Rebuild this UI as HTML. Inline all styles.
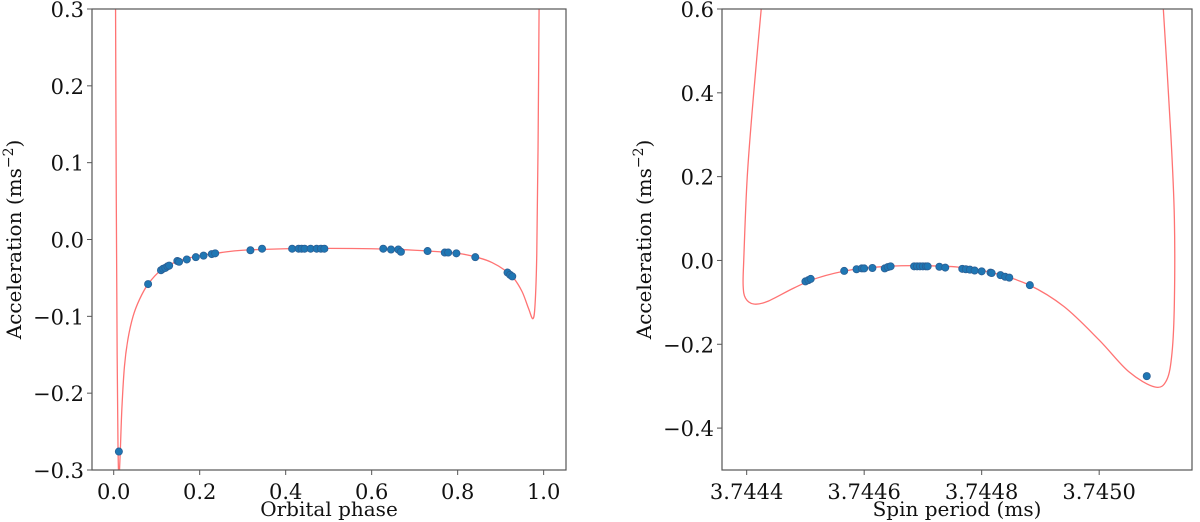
<!DOCTYPE html>
<html><head><meta charset="utf-8">
<style>
html,body{margin:0;padding:0;background:#fff;}
svg{display:block;font-family:"DejaVu Serif","Liberation Serif",serif;}
</style></head>
<body>
<svg id="chart" width="1200" height="522" viewBox="0 0 1200 522"></svg>
<script>
// ---- Left panel data (orbital phase) ----
const leftXTicks = [0.0, 0.2, 0.4, 0.6, 0.8, 1.0];
const leftXTickLabels = ["0.0", "0.2", "0.4", "0.6", "0.8", "1.0"];
const leftYTicks = [-0.3, -0.2, -0.1, 0.0, 0.1, 0.2, 0.3];
const leftYTickLabels = ["\u22120.3", "\u22120.2", "\u22120.1", "0.0", "0.1", "0.2", "0.3"];
const leftCurvePhase = [0.004, 0.006, 0.008, 0.010, 0.012, 0.015, 0.019, 0.025, 0.033, 0.045, 0.06, 0.08, 0.11, 0.15, 0.2, 0.25, 0.3, 0.4, 0.5, 0.6, 0.7, 0.8, 0.85, 0.88, 0.91, 0.93, 0.95, 0.965, 0.975, 0.980, 0.984, 0.987, 0.990];
const leftCurveAcc = [0.35, 0.05, -0.15, -0.27, -0.31, -0.28, -0.22, -0.165, -0.13, -0.100, -0.078, -0.058, -0.040, -0.028, -0.021, -0.017, -0.014, -0.012, -0.0115, -0.012, -0.014, -0.018, -0.024, -0.030, -0.040, -0.050, -0.068, -0.09, -0.103, -0.085, -0.02, 0.12, 0.35];
const leftPointPhase = [0.012, 0.080, 0.110, 0.115, 0.120, 0.125, 0.129, 0.148, 0.152, 0.170, 0.191, 0.209, 0.228, 0.236, 0.318, 0.345, 0.415, 0.430, 0.437, 0.444, 0.458, 0.472, 0.482, 0.490, 0.627, 0.645, 0.662, 0.668, 0.730, 0.770, 0.778, 0.797, 0.841, 0.916, 0.922, 0.927];
const leftPointAcc = [-0.276, -0.058, -0.040, -0.038, -0.037, -0.035, -0.034, -0.028, -0.029, -0.026, -0.023, -0.021, -0.019, -0.018, -0.014, -0.012, -0.012, -0.012, -0.012, -0.012, -0.012, -0.012, -0.012, -0.012, -0.012, -0.013, -0.013, -0.016, -0.015, -0.017, -0.017, -0.018, -0.023, -0.043, -0.046, -0.048];

// ---- Right panel data (spin period) ----
const rightXTicks = [3.7444, 3.7446, 3.7448, 3.7450];
const rightXTickLabels = ["3.7444", "3.7446", "3.7448", "3.7450"];
const rightYTicks = [-0.4, -0.2, 0.0, 0.2, 0.4, 0.6];
const rightYTickLabels = ["\u22120.4", "\u22120.2", "0.0", "0.2", "0.4", "0.6"];
const rightCurvePeriod = [3.744428, 3.744412, 3.744401, 3.744395, 3.744394, 3.744398, 3.744412, 3.744435, 3.744480, 3.744520, 3.744580, 3.744640, 3.744700, 3.744760, 3.744820, 3.744880, 3.744940, 3.745000, 3.745050, 3.745095, 3.745115, 3.745124, 3.745128, 3.745128, 3.745122, 3.745107];
const rightCurveAcc = [0.65, 0.4, 0.2, 0.0, -0.06, -0.09, -0.104, -0.098, -0.066, -0.042, -0.022, -0.014, -0.0125, -0.016, -0.030, -0.058, -0.11, -0.19, -0.265, -0.302, -0.285, -0.22, -0.1, 0.1, 0.3, 0.65];
const rightPointPeriod = [3.744500, 3.744505, 3.744509, 3.744566, 3.744587, 3.744596, 3.744600, 3.744614, 3.744635, 3.744640, 3.744645, 3.744685, 3.744690, 3.744695, 3.744700, 3.744705, 3.744708, 3.744728, 3.744738, 3.744767, 3.744773, 3.744780, 3.744788, 3.744800, 3.744815, 3.744817, 3.744832, 3.744840, 3.744847, 3.744882, 3.745081];
const rightPointAcc = [-0.050, -0.047, -0.044, -0.025, -0.021, -0.019, -0.019, -0.018, -0.019, -0.016, -0.014, -0.014, -0.014, -0.014, -0.014, -0.014, -0.014, -0.015, -0.017, -0.020, -0.021, -0.022, -0.024, -0.026, -0.029, -0.030, -0.035, -0.039, -0.041, -0.059, -0.276];

const NS = "http://www.w3.org/2000/svg";
const svg = document.getElementById("chart");
function mk(tag, attrs, parent) {
  const e = document.createElementNS(NS, tag);
  for (const k in attrs) e.setAttribute(k, attrs[k]);
  (parent || svg).appendChild(e);
  return e;
}
function smoothPath(pts) {
  let d = "M" + pts[0][0].toFixed(2) + "," + pts[0][1].toFixed(2);
  for (let i = 0; i < pts.length - 1; i++) {
    const p0 = pts[Math.max(0, i - 1)], p1 = pts[i], p2 = pts[i + 1], p3 = pts[Math.min(pts.length - 1, i + 2)];
    const c1x = p1[0] + (p2[0] - p0[0]) / 6, c1y = p1[1] + (p2[1] - p0[1]) / 6;
    const c2x = p2[0] - (p3[0] - p1[0]) / 6, c2y = p2[1] - (p3[1] - p1[1]) / 6;
    d += "C" + c1x.toFixed(2) + "," + c1y.toFixed(2) + " " + c2x.toFixed(2) + "," + c2y.toFixed(2) + " " + p2[0].toFixed(2) + "," + p2[1].toFixed(2);
  }
  return d;
}

function panel(cfg) {
  const g = mk("g", {});
  
  
  const L = cfg.left, R = cfg.right, T = 9, B = 470;
  const sx = v => L + (v - cfg.xmin) / (cfg.xmax - cfg.xmin) * (R - L);
  const sy = v => B - (v - cfg.ymin) / (cfg.ymax - cfg.ymin) * (B - T);
  const clipId = cfg.name + "-clip";
  const defs = mk("defs", {}, g);
  const cp = mk("clipPath", { id: clipId }, defs);
  mk("rect", { x: L, y: T, width: R - L, height: B - T }, cp);

  const pts = cfg.cx.map((v, i) => [sx(v), sy(cfg.cy[i])]);
  const curve = mk("path", { d: smoothPath(pts), fill: "none", stroke: "#ff5a5a", "stroke-opacity": "0.85", "stroke-width": "1.3", "stroke-linejoin": "round", "clip-path": "url(#" + clipId + ")" }, g);
  
  

  cfg.px.forEach((v, i) => {
    const c = mk("circle", { cx: sx(v), cy: sy(cfg.py[i]), r: 3.6, fill: "#1f77b4", stroke: "#2a5f95", "stroke-width": "0.8", "clip-path": "url(#" + clipId + ")" }, g);
    
    
  });

  const fr = mk("rect", { x: L, y: T, width: R - L, height: B - T, fill: "none", stroke: "#555", "stroke-width": "1.2" }, g);
  
  

  cfg.xt.forEach((v, i) => {
    const x = sx(v);
    mk("line", { x1: x, y1: B, x2: x, y2: B + 5, stroke: "#555", "stroke-width": "1" }, g);
    const t = mk("text", { x: x, y: B + 29, "text-anchor": "middle", "font-size": "21", fill: "#111" }, g);
    t.textContent = cfg.xtl[i];
    
    
  });
  cfg.yt.forEach((v, i) => {
    const y = sy(v);
    mk("line", { x1: L, y1: y, x2: L - 5, y2: y, stroke: "#555", "stroke-width": "1" }, g);
    const t = mk("text", { x: L - 8, y: y + 8, "text-anchor": "end", "font-size": "21", fill: "#111" }, g);
    t.textContent = cfg.ytl[i];
    
    
  });
  const xl = mk("text", { x: (L + R) / 2, y: 516, "text-anchor": "middle", "font-size": "20", fill: "#111" }, g);
  xl.textContent = cfg.xlabel;
  
  
  const yl = mk("text", { x: 0, y: 0, "text-anchor": "middle", "font-size": "20", fill: "#111", transform: "translate(" + cfg.ylx + "," + ((T + B) / 2) + ") rotate(-90)" }, g);
  yl.textContent = "Acceleration (ms";
  const sup = mk("tspan", { dy: "-8", "font-size": "14" }, yl);
  sup.textContent = "\u22122";
  const cl = mk("tspan", { dy: "8" }, yl);
  cl.textContent = ")";
  
  
}

panel({ name: "orbital-phase-panel", left: 92, right: 566, xmin: -0.0505, xmax: 1.052, ymin: -0.3, ymax: 0.3,
  cx: leftCurvePhase, cy: leftCurveAcc, px: leftPointPhase, py: leftPointAcc,
  xt: leftXTicks, xtl: leftXTickLabels, yt: leftYTicks, ytl: leftYTickLabels,
  xlabel: "Orbital phase", ylx: 21 });
panel({ name: "spin-period-panel", left: 722, right: 1192, xmin: 3.744358, xmax: 3.745158, ymin: -0.5, ymax: 0.6,
  cx: rightCurvePeriod, cy: rightCurveAcc, px: rightPointPeriod, py: rightPointAcc,
  xt: rightXTicks, xtl: rightXTickLabels, yt: rightYTicks, ytl: rightYTickLabels,
  xlabel: "Spin period (ms)", ylx: 651 });
</script>
</body></html>
